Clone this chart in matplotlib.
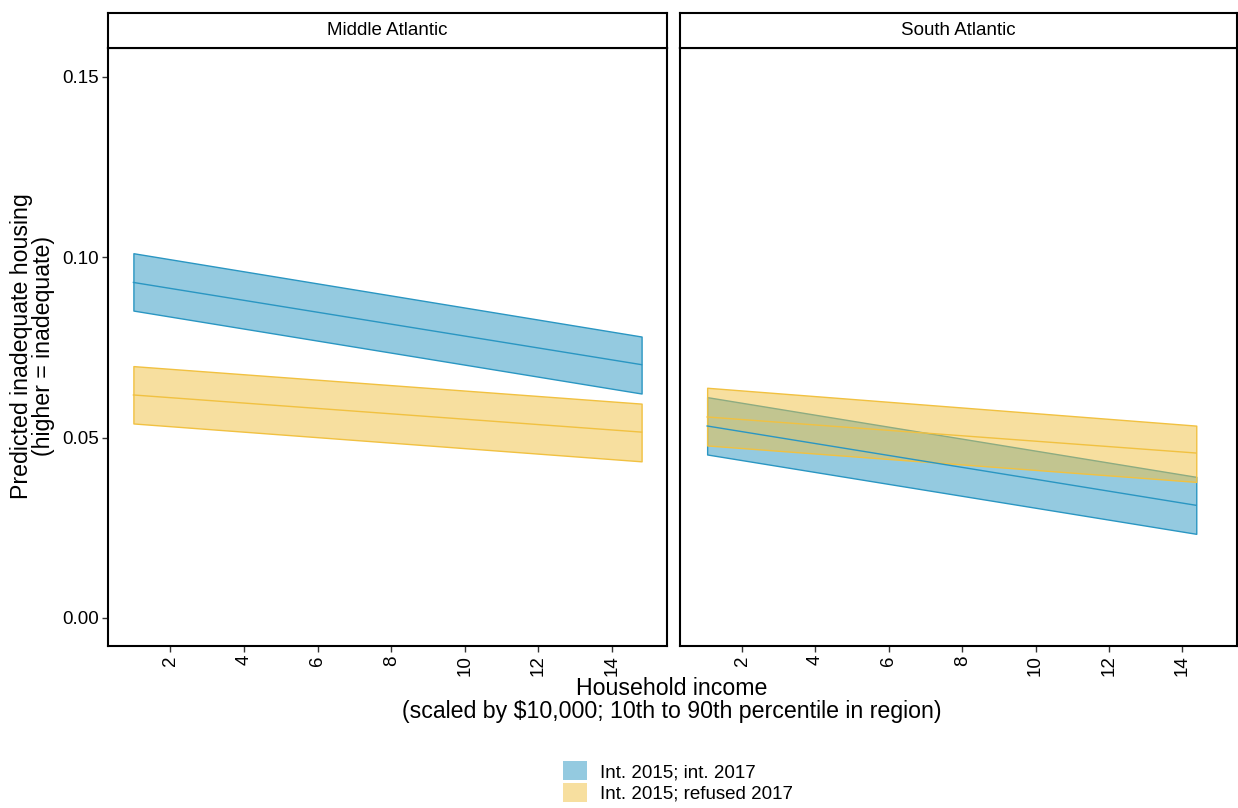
import matplotlib
matplotlib.use("Agg")
import matplotlib.pyplot as plt
from matplotlib.colors import to_rgba
from matplotlib.patches import Patch

plt.rcParams['font.family'] = ['Liberation Sans', 'DejaVu Sans']

# ---- data ----
panels = ["Middle Atlantic", "South Atlantic"]
series = ["Int. 2015; int. 2017", "Int. 2015; refused 2017"]

income_ma = [1.0, 14.8]
ma_int_mean = [0.0930, 0.0702]
ma_int_lower = [0.0852, 0.0622]
ma_int_upper = [0.1011, 0.0780]
ma_ref_mean = [0.0618, 0.0515]
ma_ref_lower = [0.0539, 0.0434]
ma_ref_upper = [0.0698, 0.0594]

income_sa = [1.05, 14.38]
sa_int_mean = [0.0532, 0.0312]
sa_int_lower = [0.0453, 0.0233]
sa_int_upper = [0.0612, 0.0391]
sa_ref_mean = [0.0557, 0.0457]
sa_ref_lower = [0.0478, 0.0377]
sa_ref_upper = [0.0638, 0.0533]

x_ticks = [2, 4, 6, 8, 10, 12, 14]
y_ticks = [0.00, 0.05, 0.10, 0.15]
y_tick_labels = ["0.00", "0.05", "0.10", "0.15"]

colors = ["#2A96C2", "#F1C141"]

W, H = 1238, 808
fig = plt.figure(figsize=(W / 100, H / 100), dpi=100)

def px_axes(x0, y0, x1, y1):
    return fig.add_axes([x0 / W, 1 - y1 / H, (x1 - x0) / W, (y1 - y0) / H])

panel_px = [(108, 48, 667, 646), (680, 48, 1237, 646)]
data = [
    (income_ma, [(ma_int_lower, ma_int_mean, ma_int_upper), (ma_ref_lower, ma_ref_mean, ma_ref_upper)]),
    (income_sa, [(sa_int_lower, sa_int_mean, sa_int_upper), (sa_ref_lower, sa_ref_mean, sa_ref_upper)]),
]

tick_fs = 13.5
title_fs = 16.7
for i, ((x0, y0, x1, y1), name, (xs, groups)) in enumerate(zip(panel_px, panels, data)):
    ax = px_axes(x0, y0, x1, y1)
    for (lo, mid, hi), c in zip(groups, colors):
        ax.fill_between(xs, lo, hi, facecolor=to_rgba(c, 0.5), edgecolor=c, linewidth=1.0)
        ax.plot(xs, mid, color=c, linewidth=1.0)
    ax.set_xlim(0.31, 15.49)
    ax.set_ylim(-0.0078, 0.158)
    ax.set_xticks(x_ticks)
    ax.set_xticklabels([str(t) for t in x_ticks], rotation=90, fontsize=tick_fs)
    ax.tick_params(axis='x', length=4.5, width=1.0, pad=2, color='#333333')
    if i == 0:
        ax.set_yticks(y_ticks)
        ax.set_yticklabels(y_tick_labels, fontsize=tick_fs)
        ax.tick_params(axis='y', length=4.5, width=1.0, pad=2, color='#333333')
    else:
        ax.set_yticks([])
    for s in ax.spines.values():
        s.set_linewidth(1.5)
        s.set_color('black')
    # strip
    sax = px_axes(x0, 13, x1, 48)
    sax.set_xticks([]); sax.set_yticks([])
    for s in sax.spines.values():
        s.set_linewidth(1.5)
        s.set_color('black')
    sax.text(0.5, 0.5, name, ha='center', va='center', fontsize=tick_fs, transform=sax.transAxes)

fig.text(32.5 / W, 1 - 346 / H, "Predicted inadequate housing\n(higher = inadequate)",
         rotation=90, ha='center', va='center', fontsize=title_fs, linespacing=0.98)
fig.text(672 / W, 1 - 700 / H, "Household income\n(scaled by \\$10,000; 10th to 90th percentile in region)",
         ha='center', va='center', fontsize=title_fs, linespacing=0.98)

handles = [Patch(facecolor=to_rgba(c, 0.5), edgecolor='none') for c in colors]
fig.legend(handles, series, loc='upper left', bbox_to_anchor=(563 / W, 1 - 761 / H),
           frameon=False, fontsize=tick_fs, borderpad=0, borderaxespad=0,
           handlelength=1.28, handleheight=1.22, labelspacing=0.08, handletextpad=0.7)

fig.savefig("out.png", dpi=100)
